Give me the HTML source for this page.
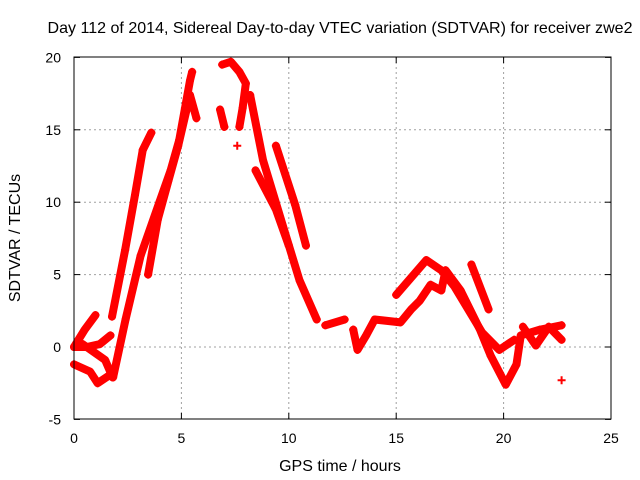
<!DOCTYPE html>
<html><head><meta charset="utf-8"><style>
body{margin:0;background:#fff}
svg{display:block;font-family:"Liberation Sans",sans-serif}
</style></head><body>
<svg id="chart" width="640" height="480">
<text x="340" y="33" text-anchor="middle" font-size="16" textLength="585" lengthAdjust="spacingAndGlyphs">Day 112 of 2014, Sidereal Day-to-day VTEC variation (SDTVAR) for receiver zwe2</text>
<text x="340" y="471" text-anchor="middle" font-size="16">GPS time / hours</text>
<text transform="translate(20,238) rotate(-90)" text-anchor="middle" font-size="16">SDTVAR / TECUs</text>
<g id="grid"></g><g id="ticks"></g><g id="series"></g>
<rect x="74" y="57" width="537" height="362" fill="none" stroke="#000" stroke-width="1"/>
</svg>
<script>
const xTicks=[0,5,10,15,20,25];
const yTicks=[-5,0,5,10,15,20];
const track1=[[0,0],[0.5,1.2],[1,2.2]];
const track2=[[0,-1.2],[0.75,-1.7],[1.1,-2.5],[1.7,-1.9]];
const track3=[[0,0],[0.6,0],[1.2,0.2],[1.7,0.8]];
const track4=[[0.4,0.2],[1.45,-0.9],[1.8,-2.1]];
const track5=[[1.77,2.1],[2.38,6.7],[2.84,10.5],[3.2,13.6],[3.6,14.8]];
const track6=[[1.82,-2.1],[2.4,1.9],[3.1,6.3],[4.0,10.1],[4.5,12.2],[4.9,14.3],[5.4,18.4],[5.5,19]];
const track7=[[3.45,5],[3.9,8.8],[4.4,11.5],[4.85,13.9],[5.4,17.4],[5.7,15.8]];
const track8=[[6.9,19.5],[7.3,19.7],[7.7,19],[8.0,18.2],[7.85,16.5],[7.7,15.2]];
const track9=[[6.8,16.4],[7.0,15.2]];
const track10=[[8.2,17.4],[8.8,12.9],[9.8,8],[10.5,4.6],[11.3,1.9]];
const track11=[[8.45,12.2],[9.4,9.5],[10.0,7]];
const track12=[[9.4,13.9],[10.3,9.8],[10.8,7]];
const track13=[[11.7,1.5],[12.6,1.9]];
const track14=[[13.0,1.2],[13.2,-0.2],[13.6,0.8],[14.0,1.9],[15.2,1.7],[15.7,2.6],[16.1,3.2],[16.6,4.3],[17.1,3.9],[17.3,5.3],[18.0,3.9],[18.9,1.2],[19.4,-0.6],[20.1,-2.6],[20.6,-1.2],[20.8,0.8],[21.7,1.2],[22.7,1.5]];
const track15=[[15,3.6],[16.4,6],[17.1,5.3],[17.7,4.2],[19.0,1.0],[19.8,-0.2],[20.5,0.5]];
const track16=[[18.5,5.7],[19.3,2.6]];
const track17=[[20.9,1.4],[21.5,0.1],[22.1,1.4],[22.7,0.5]];
const track18=[[22.7,-2.3],[7.6,13.9]];
const tracks=[track1,track2,track3,track4,track5,track6,track7,track8,track9,track10,track11,track12,track13,track14,track15,track16,track17,track18];
const NS='http://www.w3.org/2000/svg';
const X=h=>74+h*(537/25), Y=v=>347-(v)*(362/25);
const grid=document.getElementById('grid'),ticks=document.getElementById('ticks'),ser=document.getElementById('series');
function mk(t,a,p){const e=document.createElementNS(NS,t);for(const k in a)e.setAttribute(k,a[k]);p.appendChild(e);return e;}
xTicks.forEach(t=>{const x=X(t);
 if(t>0&&t<25){const g=mk('line',{x1:x,x2:x,y1:57,y2:419,stroke:'#a0a0a0','stroke-dasharray':'2,3'},grid);}
 mk('line',{x1:x,x2:x,y1:419,y2:413,stroke:'#000'},ticks);mk('line',{x1:x,x2:x,y1:57,y2:63,stroke:'#000'},ticks);
 const l=mk('text',{x:x,y:443,'text-anchor':'middle','font-size':14},ticks);l.textContent=t;
 });
yTicks.forEach(t=>{const y=Y(t);
 if(t>-5&&t<20){const g=mk('line',{x1:74,x2:611,y1:y,y2:y,stroke:'#a0a0a0','stroke-dasharray':'2,3'},grid);}
 mk('line',{x1:74,x2:80,y1:y,y2:y,stroke:'#000'},ticks);mk('line',{x1:611,x2:605,y1:y,y2:y,stroke:'#000'},ticks);
 const l=mk('text',{x:61,y:y+5,'text-anchor':'end','font-size':14},ticks);l.textContent=t;
 });
tracks.forEach((tr,i)=>{
 if(i<tracks.length-1){const pl=mk('polyline',{points:tr.map(p=>X(p[0])+','+Y(p[1])).join(' '),fill:'none',stroke:'#ff0000','stroke-width':8,'stroke-linejoin':'round','stroke-linecap':'round'},ser);
 
 }
 tr.forEach(p=>{const x=X(p[0]),y=Y(p[1]);
  const m=mk('path',{d:`M${x-4},${y}H${x+4}M${x},${y-4}V${y+4}`,stroke:'#ff0000','stroke-width':2},ser);
  
  });
});
</script>
</body></html>
